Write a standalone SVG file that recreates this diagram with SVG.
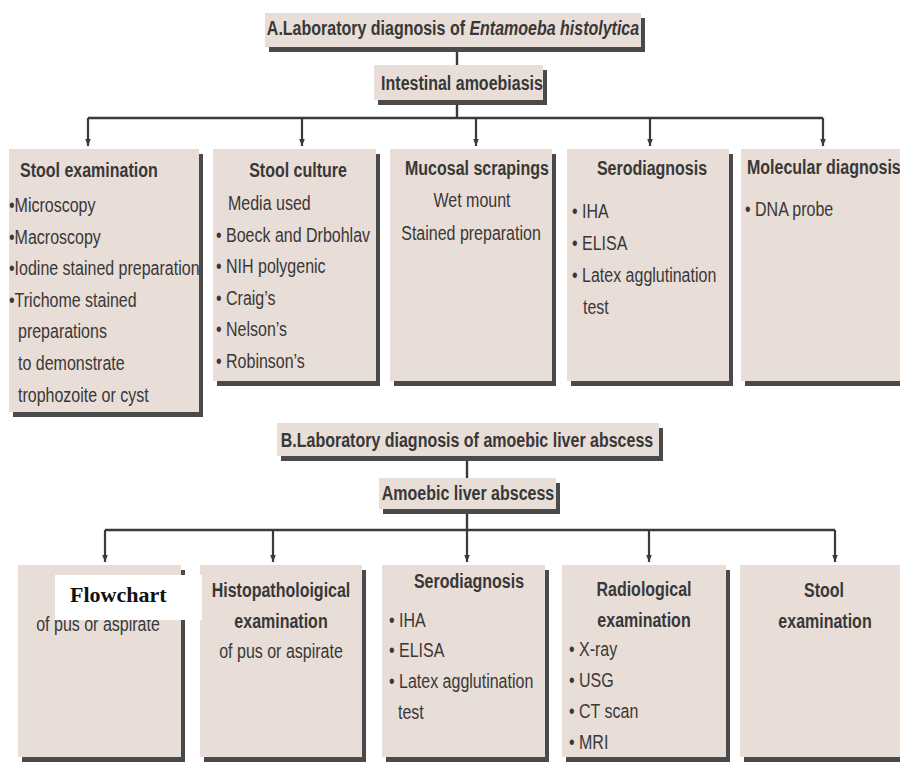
<svg xmlns="http://www.w3.org/2000/svg" width="900" height="763" viewBox="0 0 900 763">
  <defs>
    <marker id="arrow" markerUnits="userSpaceOnUse" viewBox="0 0 10 10" refX="10" refY="5" markerWidth="9" markerHeight="7" orient="auto">
      <path d="M0,1 L10,5 L0,9 z" fill="#3a3a3a"/>
    </marker>
  </defs>
  <style>
    .box { fill: #e9ddd7; }
    .sh { fill: #4a4a4a; }
    .t { font-family: "Liberation Sans", Arial, sans-serif; font-size: 21px; fill: #383838; }
    .b { font-weight: bold; }
    .c { text-anchor: middle; }
    .ln { stroke: #3a3a3a; stroke-width: 2.4; fill: none; }
    .ar { stroke: #3a3a3a; stroke-width: 2.2; fill: none; marker-end: url(#arrow); }
    .lbl { font-family: "Liberation Serif", "Times New Roman", serif; font-size: 22px; font-weight: bold; fill: #111; }
  </style>
  <rect width="900" height="763" fill="#ffffff"/>

  <!-- connectors -->
  <g id="connectors">
    <line class="ln" x1="457" y1="51" x2="457" y2="65"/>
    <line class="ln" x1="457" y1="104" x2="457" y2="118"/>
    <line class="ln" x1="88" y1="118" x2="823" y2="118"/>
    <line class="ar" x1="88" y1="118" x2="88" y2="146"/>
    <line class="ar" x1="302" y1="118" x2="302" y2="146"/>
    <line class="ar" x1="476" y1="118" x2="476" y2="146"/>
    <line class="ar" x1="650" y1="118" x2="650" y2="146"/>
    <line class="ar" x1="823" y1="118" x2="823" y2="146"/>

    <line class="ln" x1="467" y1="460" x2="467" y2="478"/>
    <line class="ln" x1="467" y1="513" x2="467" y2="530"/>
    <line class="ln" x1="105" y1="530" x2="835" y2="530"/>
    <line class="ar" x1="105" y1="530" x2="105" y2="562"/>
    <line class="ar" x1="273" y1="530" x2="273" y2="562"/>
    <line class="ar" x1="467" y1="530" x2="467" y2="562"/>
    <line class="ar" x1="649" y1="530" x2="649" y2="562"/>
    <line class="ar" x1="835" y1="530" x2="835" y2="562"/>
  </g>

  <!-- section A -->
  <g id="title-a">
    <rect class="sh" x="269" y="18" width="376" height="34"/>
    <rect class="box" x="265" y="13" width="376" height="34"/>
    <text class="t b c" transform="translate(453,35) scale(0.762,1)">A.Laboratory diagnosis of <tspan font-style="italic">Entamoeba histolytica</tspan></text>
  </g>

  <g id="intestinal">
    <rect class="sh" x="378" y="70" width="169" height="35"/>
    <rect class="box" x="374" y="65" width="169" height="35"/>
    <text class="t b c" transform="translate(462,90) scale(0.762,1)">Intestinal amoebiasis</text>
  </g>

  <g id="a-stool-exam">
    <rect class="sh" x="13" y="154" width="190" height="263"/>
    <rect class="box" x="9" y="149" width="190" height="263"/>
    <text class="t b" transform="translate(20,177) scale(0.762,1)">Stool examination</text>
    <text class="t" transform="translate(9,212) scale(0.762,1)">•Microscopy</text>
    <text class="t" transform="translate(9,243.6) scale(0.762,1)">•Macroscopy</text>
    <text class="t" transform="translate(9,275.2) scale(0.762,1)">•Iodine stained preparation</text>
    <text class="t" transform="translate(9,306.8) scale(0.762,1)">•Trichome stained</text>
    <text class="t" transform="translate(18,338.4) scale(0.762,1)">preparations</text>
    <text class="t" transform="translate(18,370) scale(0.762,1)">to demonstrate</text>
    <text class="t" transform="translate(18,401.6) scale(0.762,1)">trophozoite or cyst</text>
  </g>

  <g id="a-stool-culture">
    <rect class="sh" x="217" y="154" width="163" height="232"/>
    <rect class="box" x="213" y="149" width="163" height="232"/>
    <text class="t b c" transform="translate(298,177) scale(0.762,1)">Stool culture</text>
    <text class="t" transform="translate(228,210) scale(0.762,1)">Media used</text>
    <text class="t" transform="translate(216,241.5) scale(0.762,1)">• Boeck and Drbohlav</text>
    <text class="t" transform="translate(216,273) scale(0.762,1)">• NIH polygenic</text>
    <text class="t" transform="translate(216,304.5) scale(0.762,1)">• Craig’s</text>
    <text class="t" transform="translate(216,336) scale(0.762,1)">• Nelson’s</text>
    <text class="t" transform="translate(216,367.5) scale(0.762,1)">• Robinson’s</text>
  </g>

  <g id="a-mucosal">
    <rect class="sh" x="394" y="154" width="162" height="232"/>
    <rect class="box" x="390" y="149" width="162" height="232"/>
    <text class="t b c" transform="translate(477,175) scale(0.762,1)">Mucosal scrapings</text>
    <text class="t c" transform="translate(472,207) scale(0.762,1)">Wet mount</text>
    <text class="t c" transform="translate(471,240) scale(0.762,1)">Stained preparation</text>
  </g>

  <g id="a-serodiagnosis">
    <rect class="sh" x="571" y="154" width="162" height="232"/>
    <rect class="box" x="567" y="149" width="162" height="232"/>
    <text class="t b c" transform="translate(652,175) scale(0.762,1)">Serodiagnosis</text>
    <text class="t" transform="translate(572,218) scale(0.762,1)">• IHA</text>
    <text class="t" transform="translate(572,250) scale(0.762,1)">• ELISA</text>
    <text class="t" transform="translate(572,282) scale(0.762,1)">• Latex agglutination</text>
    <text class="t" transform="translate(583,314) scale(0.762,1)">test</text>
  </g>

  <g id="a-molecular">
    <rect class="sh" x="745" y="154" width="170" height="232"/>
    <rect class="box" x="741" y="149" width="170" height="232"/>
    <text class="t b" transform="translate(747,174) scale(0.762,1)">Molecular diagnosis</text>
    <text class="t" transform="translate(745,216) scale(0.762,1)">• DNA probe</text>
  </g>

  <!-- section B -->
  <g id="title-b">
    <rect class="sh" x="281" y="428" width="382" height="33"/>
    <rect class="box" x="277" y="423" width="382" height="33"/>
    <text class="t b c" transform="translate(467,447) scale(0.762,1)">B.Laboratory diagnosis of amoebic liver abscess</text>
  </g>

  <g id="liver-abscess">
    <rect class="sh" x="383" y="483" width="177" height="31"/>
    <rect class="box" x="379" y="478" width="177" height="31"/>
    <text class="t b c" transform="translate(468,500) scale(0.762,1)">Amoebic liver abscess</text>
  </g>

  <g id="b-microscopic">
    <rect class="sh" x="22" y="570" width="163" height="192"/>
    <rect class="box" x="18" y="565" width="163" height="192"/>
    <text class="t c" transform="translate(98,631) scale(0.762,1)">of pus or aspirate</text>
  </g>

  <g id="b-histopathology">
    <rect class="sh" x="204" y="570" width="162" height="192"/>
    <rect class="box" x="200" y="565" width="162" height="192"/>
    <text class="t b c" transform="translate(281,597) scale(0.762,1)">Histopatholoigical</text>
    <text class="t b c" transform="translate(281,628) scale(0.762,1)">examination</text>
    <text class="t c" transform="translate(281,658) scale(0.762,1)">of pus or aspirate</text>
  </g>

  <g id="b-serodiagnosis">
    <rect class="sh" x="386" y="570" width="163" height="192"/>
    <rect class="box" x="382" y="565" width="163" height="192"/>
    <text class="t b c" transform="translate(469,588) scale(0.762,1)">Serodiagnosis</text>
    <text class="t" transform="translate(389,627) scale(0.762,1)">• IHA</text>
    <text class="t" transform="translate(389,657) scale(0.762,1)">• ELISA</text>
    <text class="t" transform="translate(389,688) scale(0.762,1)">• Latex agglutination</text>
    <text class="t" transform="translate(398,719) scale(0.762,1)">test</text>
  </g>

  <g id="b-radiological">
    <rect class="sh" x="566" y="570" width="164" height="192"/>
    <rect class="box" x="562" y="565" width="164" height="192"/>
    <text class="t b c" transform="translate(644,596) scale(0.762,1)">Radiological</text>
    <text class="t b c" transform="translate(644,627) scale(0.762,1)">examination</text>
    <text class="t" transform="translate(569,656) scale(0.762,1)">• X-ray</text>
    <text class="t" transform="translate(569,687) scale(0.762,1)">• USG</text>
    <text class="t" transform="translate(569,718) scale(0.762,1)">• CT scan</text>
    <text class="t" transform="translate(569,749) scale(0.762,1)">• MRI</text>
  </g>

  <g id="b-stool-exam">
    <rect class="sh" x="744" y="570" width="170" height="192"/>
    <rect class="box" x="740" y="565" width="170" height="192"/>
    <text class="t b c" transform="translate(824,597) scale(0.762,1)">Stool</text>
    <text class="t b c" transform="translate(825,628) scale(0.762,1)">examination</text>
  </g>

  <!-- white caption tag laid over the first lower box -->
  <g id="flowchart-tag">
    <rect x="55" y="575" width="147" height="45" fill="#ffffff"/>
    <text class="lbl" x="70" y="602">Flowchart</text>
  </g>
</svg>
